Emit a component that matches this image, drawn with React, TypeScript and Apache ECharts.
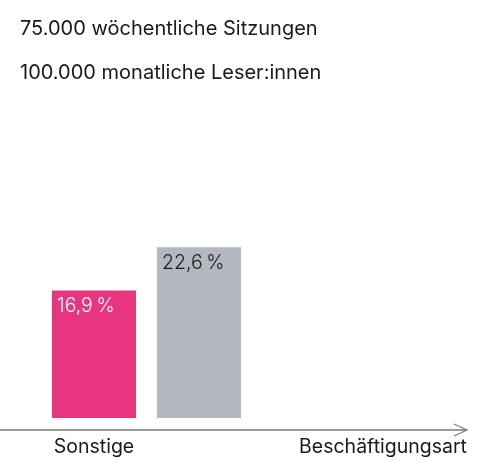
import React, { useEffect, useRef } from "react";
import * as echarts from "echarts";

const headlines = ["75.000 wöchentliche Sitzungen", "100.000 monatliche Leser:innen"];
const categories = ["Sonstige", ""];
const values = [16.9, 22.6];
const barColors = ["#E8357F", "#B3B7BE"];
const labelColors = ["#FFFFFF", "#1A1A1A"];
const axisTitle = "Beschäftigungsart";

const FONT = "Inter";
const FS = 19.5;

export default function App() {
  const ref = useRef<HTMLDivElement>(null);
  useEffect(() => {
    if (!ref.current) return;
    const chart = echarts.init(ref.current, null, { renderer: "svg" });
    chart.setOption({
      animation: false,
      grid: { left: 41.5, right: 228.5, top: 191.5, bottom: 44 },
      xAxis: {
        type: "category",
        data: categories,
        axisLine: { show: false },
        axisTick: { show: false },
        axisLabel: { margin: 18, fontSize: FS, color: "#1A1A1A", fontFamily: FONT },
      },
      yAxis: { type: "value", min: 0, max: 30, show: false, splitLine: { show: false } },
      series: [
        {
          type: "bar",
          barWidth: 84,
          data: values.map((v, i) => ({
            value: v,
            itemStyle: { color: barColors[i] },
            label: { color: labelColors[i] },
          })),
          label: {
            show: true,
            position: "insideTopLeft",
            distance: 5,
            fontSize: FS,
            fontWeight: 300,
            fontFamily: FONT,
            formatter: (p: any) => String(p.value).replace(".", ",") + "\u2009%",
          },
        },
      ],
      graphic: [
        ...headlines.map((t, i) => ({
          type: "text",
          x: 20,
          y: 28 + i * 44,
          style: {
            text: t,
            fontSize: 20,
            fontFamily: FONT,
            fill: "#1A1A1A",
            textVerticalAlign: "middle",
          },
        })),
        {
          type: "line",
          shape: { x1: 0, y1: 430, x2: 467, y2: 430 },
          style: { stroke: "#7A7A7A", lineWidth: 1.5 },
        },
        {
          type: "polyline",
          shape: { points: [[454, 424], [467, 430], [454, 436]] },
          style: { stroke: "#7A7A7A", lineWidth: 1.2, fill: "none" },
        },
        {
          type: "text",
          x: 467,
          y: 446,
          style: {
            text: axisTitle,
            fontSize: FS,
            fontFamily: FONT,
            fill: "#1A1A1A",
            textAlign: "right",
            textVerticalAlign: "middle",
          },
        },
      ],
    });
    return () => chart.dispose();
  }, []);
  return (
    <div
      ref={ref}
      style={{ position: "fixed", left: 0, top: 0, width: 480, height: 462 }}
    />
  );
}
